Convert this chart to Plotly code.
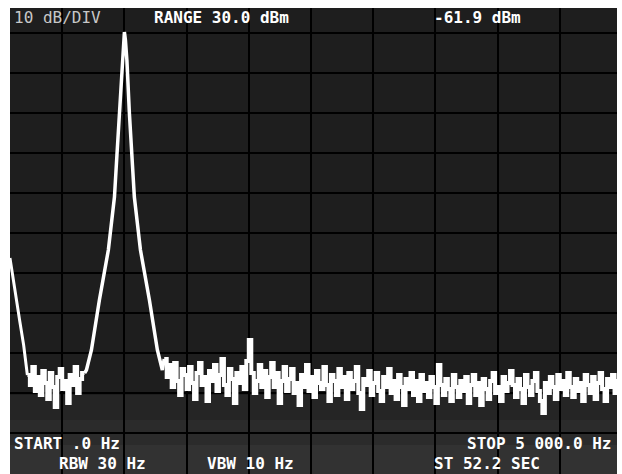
import plotly.graph_objects as go

# ---------------- data ----------------
# DC roll-off at the left edge of the sweep
dc_freq = [80, 100, 130, 160, 190, 210, 220]
dc_level = [-26.25, -30.5, -36.75, -42.25, -48.0, -52.25, -55.5]

# noise floor between DC and the 1 kHz tone (220 .. 660 Hz, 20 Hz bins)
noise_l_start, noise_step = 220, 20
noise_l = [-55.5, -58.0, -53.5, -59.5, -56.0, -60.5, -54.5, -57.5, -61.5, -55.0,
           -58.5, -63.5, -56.0, -54.0, -59.0, -57.0, -62.5, -55.5, -58.0, -53.5,
           -60.0, -56.5, -55.0]

# 1 kHz tone response
peak_freq = [680, 695, 735, 799, 871, 920, 940, 960, 980, 992, 1000,
             1008, 1020, 1040, 1060, 1080, 1129, 1201, 1265, 1305, 1320]
peak_level = [-55.0, -54.25, -49.25, -36.75, -24.25, -11.0, -0.5, 10.0, 23.25, 28.25, 30.25,
              28.25, 23.25, 10.0, -0.5, -11.0, -24.25, -36.75, -49.25, -54.25, -51.5]

# noise floor after the tone (1320 .. 4960 Hz, 20 Hz bins), incl. 2 kHz spur
noise_r_start = 1320
noise_r = [-51.5, -56.0, -53.0, -58.5, -52.5, -57.0, -60.5, -54.0, -55.5, -59.0,
           -53.5, -57.5, -61.5, -55.0, -52.5, -58.0, -56.0, -62.0, -54.5, -57.0,
           -53.0, -59.5, -55.5, -51.5, -58.0, -60.5, -54.0, -56.5, -62.5, -55.0,
           -57.5, -53.5, -59.0, -52.0, -46.75, -55.0, -60.0, -57.0, -53.0, -58.5,
           -54.5, -61.0, -56.0, -52.5, -58.5, -55.0, -62.5, -57.0, -53.5, -59.5,
           -56.5, -54.0, -60.0, -57.5, -63.0, -55.5, -58.5, -53.0, -59.5, -56.0,
           -61.0, -54.5, -57.5, -59.0, -53.5, -58.0, -62.0, -55.5, -57.0, -60.5,
           -54.0, -58.5, -56.0, -61.5, -55.0, -59.0, -57.0, -53.5, -60.0, -64.0,
           -56.5, -58.0, -54.5, -60.5, -57.5, -55.0, -59.5, -62.0, -56.0, -58.5,
           -54.0, -60.0, -57.0, -61.5, -55.5, -58.5, -63.0, -56.5, -59.0, -55.0,
           -60.5, -57.0, -62.0, -55.5, -59.5, -57.5, -61.0, -56.0, -58.5, -62.5,
           -53.0, -58.0, -60.5, -56.5, -59.0, -62.0, -55.5, -58.5, -61.0, -57.0,
           -59.5, -56.0, -62.5, -58.0, -55.5, -60.5, -57.5, -63.0, -56.5, -59.0,
           -61.5, -57.0, -55.0, -60.0, -58.5, -62.0, -56.0, -59.5, -57.5, -54.5,
           -58.0, -61.0, -56.5, -59.0, -62.5, -55.5, -58.5, -60.5, -57.0, -55.0,
           -59.5, -62.0, -65.0, -57.5, -60.0, -56.0, -58.5, -61.5, -55.5, -59.0,
           -57.0, -60.5, -55.0, -58.5, -61.0, -56.5, -59.5, -57.5, -62.0, -55.5,
           -58.0, -60.0, -56.0, -61.5, -57.5, -55.0, -59.0, -62.0, -56.5, -58.5,
           -55.5, -60.0, -57.0]

# screen annotations
ref_level = 30.0          # dBm, top graticule
db_per_div = 10
start_hz, stop_hz = 0.0, 5000.0
hz_per_div = 500
header_texts = ["10 dB/DIV", "RANGE 30.0 dBm", "-61.9 dBm"]
footer_texts = ["START .0 Hz", "STOP 5 000.0 Hz", "RBW 30 Hz", "VBW 10 Hz", "ST 52.2 SEC"]

# ---------------- build traces ----------------
noise_l_freq = [noise_l_start + i * noise_step for i in range(len(noise_l))]
noise_r_freq = [noise_r_start + i * noise_step for i in range(len(noise_r))]

fig = go.Figure()
trace_style = dict(mode="lines", hoverinfo="skip", showlegend=False)
fig.add_trace(go.Scatter(x=dc_freq, y=dc_level, line=dict(color="#ffffff", width=3), **trace_style))
fig.add_trace(go.Scatter(x=noise_l_freq + [noise_l_freq[-1] + noise_step], y=noise_l + [noise_l[-1]],
                         line=dict(color="#ffffff", width=4, shape="hv"), **trace_style))
fig.add_trace(go.Scatter(x=peak_freq, y=peak_level, line=dict(color="#ffffff", width=3.5), **trace_style))
fig.add_trace(go.Scatter(x=noise_r_freq + [noise_r_freq[-1] + noise_step], y=noise_r + [noise_r[-1]],
                         line=dict(color="#ffffff", width=4, shape="hv"), **trace_style))

W, H = 622, 474
ml, mr, mt, mb = 10, 5, 8, 0
pw, ph = W - ml - mr, H - mt - mb
# pixel scale of the screen: 10 divisions across 622 px, 40 px per vertical division
hz_per_px = (stop_hz - start_hz) / W
db_per_px = db_per_div / 40.0
x_range = [start_hz + ml * hz_per_px, start_hz + (W - mr) * hz_per_px]
top_grid_px = 33
y_top = ref_level + (top_grid_px - mt) * db_per_px
y_bot = y_top - ph * db_per_px

def px(xp):
    return (xp - ml) / pw

def py(yp):
    return 1 - (yp - mt) / ph

font_main = "DejaVu Sans Mono"
ann = []
def add_text(t, x, y, anchor="left", color="#ffffff", bold=True, size=16):
    ann.append(dict(text=(f"<b>{t}</b>" if bold else t), x=px(x), y=py(y),
                    xref="paper", yref="paper", xanchor=anchor, yanchor="middle",
                    showarrow=False,
                    font=dict(family=font_main, size=size, color=color)))

add_text(header_texts[0], 12, 17, color="#c8c8c8", bold=False)
add_text(header_texts[1], 152, 17)
add_text(header_texts[2], 432, 17)
add_text(footer_texts[0], 12, 443)
add_text(footer_texts[1], 614, 443, anchor="right")
add_text(footer_texts[2], 57, 463)
add_text(footer_texts[3], 205, 463)
add_text(footer_texts[4], 432, 463)

# faint lighter glow toward the bottom of the CRT (drawn under the grid)
shapes = []
for y0p, y1p, a in [(395, 420, 0.035), (420, 445, 0.06), (445, 474, 0.09)]:
    shapes.append(dict(type="rect", xref="paper", yref="paper", x0=0, x1=1,
                       y0=py(y1p), y1=py(y0p),
                       fillcolor=f"rgba(255,255,255,{a})", line=dict(width=0), layer="below"))

fig.update_layout(
    width=W, height=H,
    margin=dict(l=ml, r=mr, t=mt, b=mb, pad=0),
    paper_bgcolor="#ffffff",
    plot_bgcolor="#1e1e1e",
    annotations=ann,
    shapes=shapes,
    xaxis=dict(range=x_range, tick0=0, dtick=hz_per_div, showgrid=True,
               gridcolor="#000000", gridwidth=2, zeroline=False,
               showticklabels=False, ticks="", showline=False, fixedrange=True),
    yaxis=dict(range=[y_bot, y_top], tick0=ref_level, dtick=db_per_div, showgrid=True,
               gridcolor="#000000", gridwidth=2, zeroline=False,
               showticklabels=False, ticks="", showline=False, fixedrange=True),
)

fig.write_html("out.html", config={"displayModeBar": False},
               post_script="document.body.style.margin='0px';document.body.style.overflow='hidden';")
